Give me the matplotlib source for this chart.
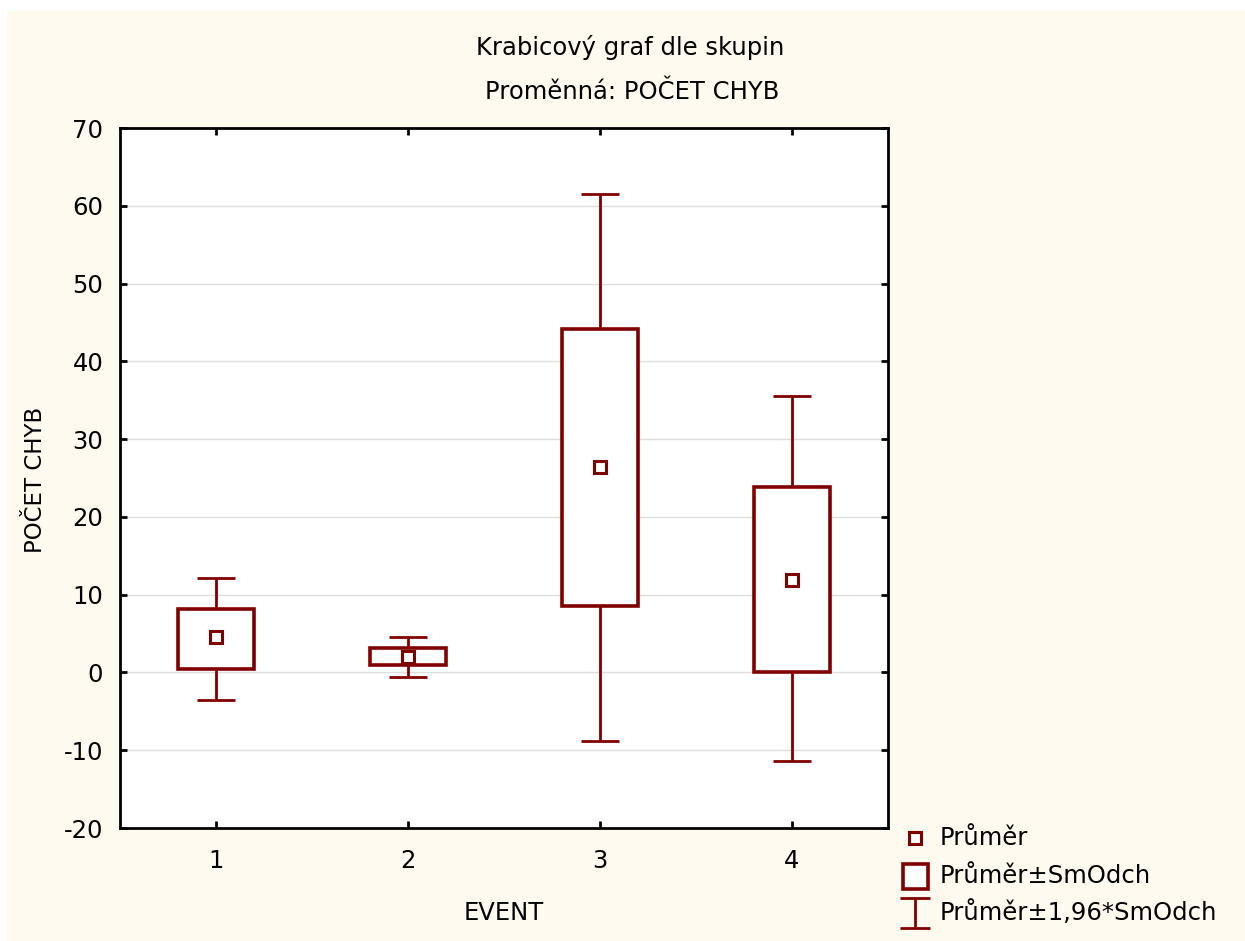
import matplotlib.pyplot as plt
from matplotlib.lines import Line2D
from matplotlib.patches import Rectangle
from matplotlib.path import Path

plt.rcParams['font.family'] = ['DejaVu Sans']
plt.rcParams['axes.unicode_minus'] = False

# skupiny a hodnoty (prumer, +-SmOdch, +-1,96*SmOdch)
events = [1, 2, 3, 4]
prumer = [4.5, 2.0, 26.4, 11.9]
box_lo = [0.5, 0.9, 8.6, 0.1]
box_hi = [8.2, 3.2, 44.2, 23.8]
whisk_lo = [-3.6, -0.6, -8.8, -11.4]
whisk_hi = [12.2, 4.6, 61.5, 35.6]
y_ticks = [-20, -10, 0, 10, 20, 30, 40, 50, 60, 70]

red = '#800000'
cream = '#fefaf0'
W, H = 1245, 941
fs = 17.5

fig = plt.figure(figsize=(W / 100, H / 100), dpi=100, facecolor='white')
# kremove pozadi
fig.add_artist(Rectangle((7 / W, 0), 1 - 7 / W, 1 - 10 / H, transform=fig.transFigure,
                         facecolor=cream, edgecolor='none', zorder=-10))

ax = fig.add_axes([120 / W, 1 - 828 / H, (888 - 120) / W, (828 - 128) / H])
ax.set_facecolor('white')
ax.set_xlim(0.5, 4.5)
ax.set_ylim(-20, 70)
ax.set_yticks(y_ticks)
ax.set_xticks(events)
ax.grid(axis='y', color='#dcdcdc', lw=1.0, zorder=0)
ax.set_axisbelow(True)
for s in ax.spines.values():
    s.set_linewidth(2.0)
ax.tick_params(direction='in', length=5, width=2, labelsize=fs,
               top=True, right=True)
ax.tick_params(axis='y', pad=12)
ax.tick_params(axis='x', pad=15)

lw = 2.0
bw = 0.4
cw = 0.2
for x, m, b0, b1, w0, w1 in zip(events, prumer, box_lo, box_hi, whisk_lo, whisk_hi):
    ax.vlines(x, w0, b0, color=red, lw=lw, zorder=2)
    ax.vlines(x, b1, w1, color=red, lw=lw, zorder=2)
    ax.hlines([w0, w1], x - cw / 2, x + cw / 2, color=red, lw=lw, zorder=2)
ax.bar(events, [h - l for h, l in zip(box_hi, box_lo)], bottom=box_lo, width=bw,
       facecolor='white', edgecolor=red, linewidth=2.6, zorder=3)
ax.plot(events, prumer, ls='none', marker='s', ms=8, mfc='white', mec=red, mew=2.2, zorder=4)

ax.set_xlabel('EVENT', fontsize=fs)
ax.xaxis.set_label_coords(0.5, -(913 - 828) / 700, transform=ax.transAxes)
ax.xaxis.label.set_va('center')
ax.set_ylabel('POČET CHYB', fontsize=16.5)
ax.yaxis.set_label_coords(-(120 - 36) / 768, (828 - 480) / 700, transform=ax.transAxes)
ax.yaxis.label.set_va('center')

fig.text(630 / W, 1 - 47 / H, 'Krabicový graf dle skupin', ha='center', va='center', fontsize=fs)
fig.text(632 / W, 1 - 92 / H, 'Proměnná: POČET CHYB', ha='center', va='center', fontsize=fs)

# legenda
ibeam = Path([(-0.5, 0.5), (0.5, 0.5), (0, 0.5), (0, -0.5), (-0.5, -0.5), (0.5, -0.5)],
             [Path.MOVETO, Path.LINETO, Path.MOVETO, Path.LINETO, Path.MOVETO, Path.LINETO])
leg = [('Průměr', dict(marker='s', ms=8, mfc='white', mec=red, mew=2.2), 838),
       ('Průměr±SmOdch', dict(marker='s', ms=18, mfc='white', mec=red, mew=2.6), 876),
       ('Průměr±1,96*SmOdch', dict(marker=ibeam, ms=21, mec=red, mew=2.0), 913)]
for label, kw, yp in leg:
    fig.add_artist(Line2D([915 / W], [1 - yp / H], transform=fig.transFigure, ls='none', **kw))
    fig.text(940 / W, 1 - yp / H, label, ha='left', va='center', fontsize=fs)

fig.savefig('out.png', dpi=100, facecolor=fig.get_facecolor())
